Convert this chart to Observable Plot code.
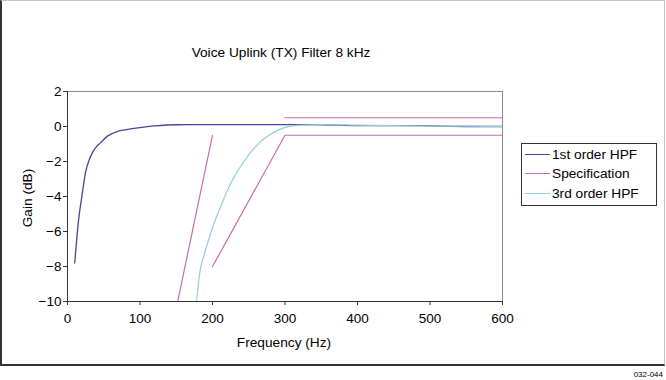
<!DOCTYPE html>
<html>
<head>
<meta charset="utf-8">
<script src="https://cdn.jsdelivr.net/npm/d3@7"></script>
<script src="https://cdn.jsdelivr.net/npm/@observablehq/plot@0.6"></script>
<style>
  body { margin: 0; background: #fff; font-family: "Liberation Sans", Arial, sans-serif; color: #000; }
  #wrap { position: relative; width: 666px; height: 380px; overflow: hidden; }
  #frame { position: absolute; left: 0; top: 0; width: 665px; height: 366px; box-sizing: border-box;
           border-left: 2px solid #333; border-bottom: 2px solid #333; border-top: 1px solid #c4c4c4; border-right: 1px solid #c4c4c4; }
  #chart { position: absolute; left: 0; top: 0; }
  .lbl { position: absolute; font-size: 13.7px; white-space: nowrap; line-height: 1; }
  #title { left: 281px; top: 46px; transform: translateX(-50%); }
  #xlabel { left: 284px; top: 336px; transform: translateX(-50%); }
  #ylabel { left: 28px; top: 198px; transform: translate(-50%, -50%) rotate(-90deg); }
  #legend { position: absolute; left: 521px; top: 143px; width: 136px; height: 63px; box-sizing: border-box;
            border: 1px solid #333; background: #fff; }
  .row { position: absolute; left: 3px; height: 16px; font-size: 13.7px; line-height: 16px; white-space: nowrap; }
  .sw { display: inline-block; width: 25px; height: 0; border-top: 1.3px solid; vertical-align: middle; margin-right: 2px; position: relative; top: -1px; }
  #caption { position: absolute; right: 3px; top: 371px; font-size: 8px; line-height: 1; }
</style>
</head>
<body>
<div id="wrap">
  <div id="frame"></div>
  <div id="chart"></div>
  <div id="title" class="lbl"></div>
  <div id="xlabel" class="lbl"></div>
  <div id="ylabel" class="lbl"></div>
  <div id="legend"></div>
  <div id="caption"></div>
</div>
<script>
// ---- data ----
const titleText = "Voice Uplink (TX) Filter 8 kHz";
const xLabelText = "Frequency (Hz)";
const yLabelText = "Gain (dB)";
const captionText = "032-044";

const seriesNames = ["1st order HPF", "Specification", "3rd order HPF"];
const seriesColors = ["#4a4498", "#c86aae", "#8ed0d8"];

const xTicks = [0, 100, 200, 300, 400, 500, 600];
const yTicks = [2, 0, -2, -4, -6, -8, -10];

const hpf1Freq = [10, 15, 20, 25, 30, 35, 40, 45, 55, 70, 85, 100, 120, 150, 200, 250, 300, 350, 400, 450, 500, 550, 600];
const hpf1Gain = [-7.8, -5.45, -3.95, -2.6, -1.9, -1.45, -1.15, -0.95, -0.55, -0.27, -0.15, -0.06, 0.03, 0.1, 0.11, 0.11, 0.11, 0.1, 0.05, 0.05, 0.04, 0.0, 0.0];

const specSegment = ["a", "a", "b", "b", "b", "c", "c"];
const specFreq = [152, 200, 200, 300, 600, 300, 600];
const specGain = [-10, -0.5, -8, -0.5, -0.5, 0.5, 0.5];

const hpf3Freq = [178, 180, 183, 188, 193, 199, 206, 213, 221, 229, 237, 245, 253, 262, 271, 280, 290, 300, 312, 325, 350, 400, 450, 500, 550, 600];
const hpf3Gain = [-10, -9.2, -8.2, -7.4, -6.7, -5.9, -5.1, -4.4, -3.6, -2.95, -2.4, -1.9, -1.45, -1.05, -0.7, -0.45, -0.22, -0.05, 0.04, 0.08, 0.11, 0.08, 0.05, 0.03, 0.02, 0.0];

// ---- tables ----
const hpf1 = hpf1Freq.map((f, i) => ({freq: f, gain: hpf1Gain[i]}));
const spec = specFreq.map((f, i) => ({freq: f, gain: specGain[i], seg: specSegment[i]}));
const hpf3 = hpf3Freq.map((f, i) => ({freq: f, gain: hpf3Gain[i]}));

const chart = Plot.plot({
  width: 666,
  height: 380,
  marginLeft: 67,
  marginRight: 164,
  marginTop: 91,
  marginBottom: 79,
  x: {domain: [0, 600]},
  y: {domain: [-10, 2]},
  style: {fontFamily: "'Liberation Sans', Arial, sans-serif", fontSize: "13.5px", color: "#000", background: "transparent", overflow: "visible"},
  marks: [
    Plot.frame({stroke: "#8a8a8a"}),
    Plot.line(hpf1, {x: "freq", y: "gain", stroke: seriesColors[0], strokeWidth: 1.3, curve: "monotone-x"}),
    Plot.line(spec, {x: "freq", y: "gain", z: "seg", stroke: seriesColors[1], strokeWidth: 1.2}),
    Plot.line(hpf3, {x: "freq", y: "gain", stroke: seriesColors[2], strokeWidth: 1.2, curve: "monotone-x"}),
    Plot.ruleX([0], {stroke: "#333"}),
    Plot.ruleY([-10], {stroke: "#333"}),
    Plot.axisX({ticks: xTicks, tickSize: 4, tickPadding: 8, label: null, stroke: "#333"}),
    Plot.axisY({ticks: yTicks, tickSize: 4, tickPadding: 2, label: null, stroke: "#333"})
  ]
});
document.getElementById("chart").appendChild(chart);

document.getElementById("title").textContent = titleText;
document.getElementById("xlabel").textContent = xLabelText;
document.getElementById("ylabel").textContent = yLabelText;
document.getElementById("caption").textContent = captionText;

const legend = document.getElementById("legend");
const rowTops = [3, 22, 42];
seriesNames.forEach((name, i) => {
  const row = document.createElement("div");
  row.className = "row";
  row.style.top = rowTops[i] + "px";
  const sw = document.createElement("span");
  sw.className = "sw";
  sw.style.borderTopColor = seriesColors[i];
  row.appendChild(sw);
  row.appendChild(document.createTextNode(name));
  legend.appendChild(row);
});
</script>
</body>
</html>
